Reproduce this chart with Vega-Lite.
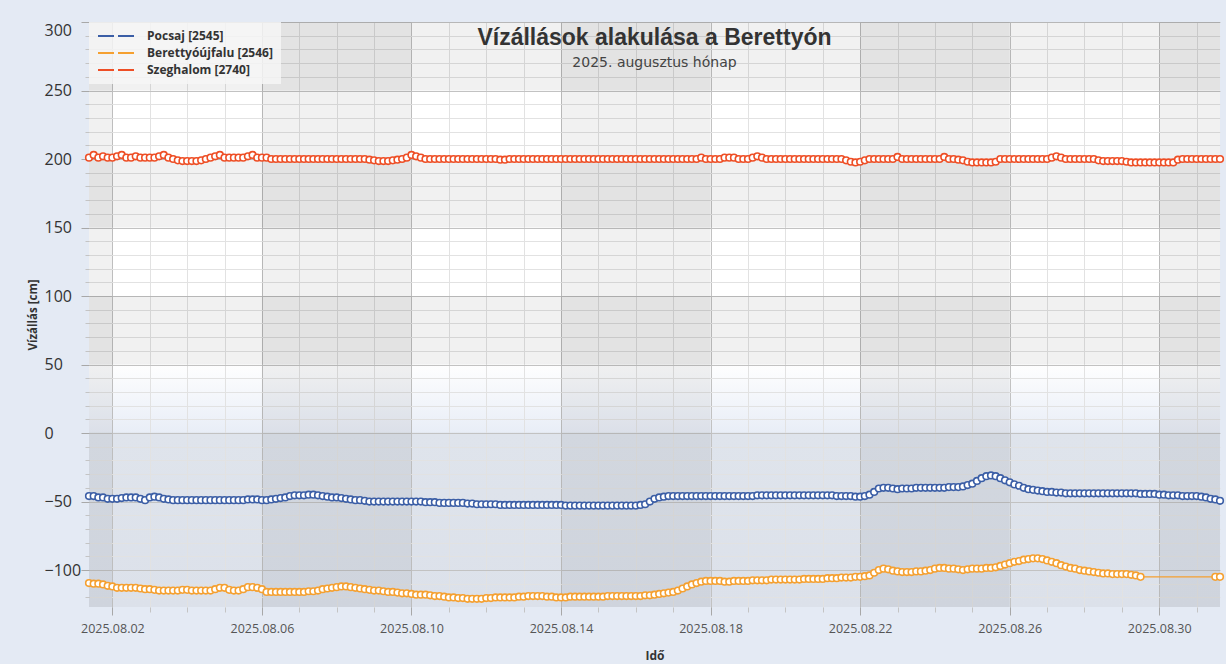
{
  "$schema": "https://vega.github.io/schema/vega-lite/v6.json",
  "width": 1131,
  "height": 585,
  "autosize": "none",
  "padding": {"left": 89, "top": 22, "right": 6, "bottom": 57},
  "background": "#e4eaf4",
  "config": {
    "view": {"stroke": null, "fill": {"gradient": "linear", "x1": 0, "y1": 0, "x2": 0, "y2": 1, "stops": [{"offset": 0, "color": "#ffffff"}, {"offset": 0.58, "color": "#ffffff"}, {"offset": 0.7, "color": "#e9eef7"}, {"offset": 0.703, "color": "#dfe4ec"}, {"offset": 1, "color": "#dce1ea"}]}},
    "font": "Open Sans"
  },
  "title": {
    "text": "Vízállások alakulása a Berettyón",
    "subtitle": "2025. augusztus hónap",
    "anchor": "middle",
    "frame": "group",
    "offset": -48,
    "font": "Liberation Sans",
    "fontSize": 23,
    "fontWeight": "bold",
    "color": "#333333",
    "subtitleFont": "DejaVu Sans",
    "subtitleFontSize": 14,
    "subtitleColor": "#444444",
    "subtitlePadding": 6
  },
  "datasets": {
    "main": [
      {"t":"2025-08-01 09","p":-46,"b":-109.5,"s":201},
      {"t":"2025-08-01 12","p":-46,"b":-110,"s":203},
      {"t":"2025-08-01 15","p":-47,"b":-110,"s":201},
      {"t":"2025-08-01 18","p":-47,"b":-110.5,"s":202},
      {"t":"2025-08-01 21","p":-48,"b":-111.5,"s":201},
      {"t":"2025-08-02 00","p":-48,"b":-112,"s":201},
      {"t":"2025-08-02 03","p":-48,"b":-113,"s":202},
      {"t":"2025-08-02 06","p":-47.5,"b":-113,"s":203},
      {"t":"2025-08-02 09","p":-47,"b":-113,"s":201},
      {"t":"2025-08-02 12","p":-47,"b":-113,"s":201},
      {"t":"2025-08-02 15","p":-47,"b":-113,"s":202},
      {"t":"2025-08-02 18","p":-48,"b":-113.5,"s":201},
      {"t":"2025-08-02 21","p":-49,"b":-114,"s":201},
      {"t":"2025-08-03 00","p":-47,"b":-114,"s":201},
      {"t":"2025-08-03 03","p":-46.5,"b":-114.5,"s":201},
      {"t":"2025-08-03 06","p":-47,"b":-115,"s":202},
      {"t":"2025-08-03 09","p":-48,"b":-115,"s":203},
      {"t":"2025-08-03 12","p":-48.5,"b":-115,"s":201},
      {"t":"2025-08-03 15","p":-49,"b":-115,"s":200},
      {"t":"2025-08-03 18","p":-49,"b":-115,"s":199},
      {"t":"2025-08-03 21","p":-49,"b":-114.5,"s":198.5},
      {"t":"2025-08-04 00","p":-49,"b":-114.5,"s":198.5},
      {"t":"2025-08-04 03","p":-49,"b":-115,"s":198.5},
      {"t":"2025-08-04 06","p":-49,"b":-115,"s":198.5},
      {"t":"2025-08-04 09","p":-49,"b":-115,"s":199},
      {"t":"2025-08-04 12","p":-49,"b":-115,"s":200},
      {"t":"2025-08-04 15","p":-49,"b":-115,"s":201},
      {"t":"2025-08-04 18","p":-49,"b":-114,"s":202},
      {"t":"2025-08-04 21","p":-49,"b":-113,"s":203},
      {"t":"2025-08-05 00","p":-49,"b":-113,"s":201},
      {"t":"2025-08-05 03","p":-49,"b":-114.5,"s":201},
      {"t":"2025-08-05 06","p":-49,"b":-115,"s":201},
      {"t":"2025-08-05 09","p":-49,"b":-115,"s":201},
      {"t":"2025-08-05 12","p":-49,"b":-114,"s":201},
      {"t":"2025-08-05 15","p":-48.5,"b":-112.5,"s":202},
      {"t":"2025-08-05 18","p":-48.5,"b":-112.5,"s":203},
      {"t":"2025-08-05 21","p":-48.5,"b":-113,"s":201},
      {"t":"2025-08-06 00","p":-49,"b":-114,"s":201},
      {"t":"2025-08-06 03","p":-49,"b":-116,"s":201},
      {"t":"2025-08-06 06","p":-48.5,"b":-116,"s":200},
      {"t":"2025-08-06 09","p":-48,"b":-116,"s":200},
      {"t":"2025-08-06 12","p":-47.5,"b":-116,"s":200},
      {"t":"2025-08-06 15","p":-47,"b":-116,"s":200},
      {"t":"2025-08-06 18","p":-46,"b":-116,"s":200},
      {"t":"2025-08-06 21","p":-45.5,"b":-116,"s":200},
      {"t":"2025-08-07 00","p":-45.5,"b":-116,"s":200},
      {"t":"2025-08-07 03","p":-45.5,"b":-116,"s":200},
      {"t":"2025-08-07 06","p":-45,"b":-115.5,"s":200},
      {"t":"2025-08-07 09","p":-45,"b":-115.5,"s":200},
      {"t":"2025-08-07 12","p":-45.5,"b":-115,"s":200},
      {"t":"2025-08-07 15","p":-46,"b":-114,"s":200},
      {"t":"2025-08-07 18","p":-46.5,"b":-113.5,"s":200},
      {"t":"2025-08-07 21","p":-47,"b":-113,"s":200},
      {"t":"2025-08-08 00","p":-47,"b":-112.5,"s":200},
      {"t":"2025-08-08 03","p":-47.5,"b":-112,"s":200},
      {"t":"2025-08-08 06","p":-48,"b":-112,"s":200},
      {"t":"2025-08-08 09","p":-48.5,"b":-112.5,"s":200},
      {"t":"2025-08-08 12","p":-49,"b":-113,"s":200},
      {"t":"2025-08-08 15","p":-49,"b":-113.5,"s":200},
      {"t":"2025-08-08 18","p":-49.5,"b":-114,"s":200},
      {"t":"2025-08-08 21","p":-50,"b":-114.5,"s":199.5},
      {"t":"2025-08-09 00","p":-50,"b":-115,"s":199},
      {"t":"2025-08-09 03","p":-50,"b":-115,"s":198.5},
      {"t":"2025-08-09 06","p":-50,"b":-115.5,"s":198.5},
      {"t":"2025-08-09 09","p":-50,"b":-116,"s":198.5},
      {"t":"2025-08-09 12","p":-50,"b":-116,"s":199},
      {"t":"2025-08-09 15","p":-50,"b":-116.5,"s":199.5},
      {"t":"2025-08-09 18","p":-50,"b":-117,"s":200},
      {"t":"2025-08-09 21","p":-50,"b":-117,"s":201},
      {"t":"2025-08-10 00","p":-50,"b":-117.5,"s":203},
      {"t":"2025-08-10 03","p":-50,"b":-118,"s":202},
      {"t":"2025-08-10 06","p":-50,"b":-118,"s":201},
      {"t":"2025-08-10 09","p":-50.5,"b":-118,"s":200},
      {"t":"2025-08-10 12","p":-50.5,"b":-118.5,"s":200},
      {"t":"2025-08-10 15","p":-50.5,"b":-119,"s":200},
      {"t":"2025-08-10 18","p":-51,"b":-119,"s":200},
      {"t":"2025-08-10 21","p":-51,"b":-119.5,"s":200},
      {"t":"2025-08-11 00","p":-51,"b":-120,"s":200},
      {"t":"2025-08-11 03","p":-51,"b":-120,"s":200},
      {"t":"2025-08-11 06","p":-51,"b":-120.5,"s":200},
      {"t":"2025-08-11 09","p":-51,"b":-120.5,"s":200},
      {"t":"2025-08-11 12","p":-51.5,"b":-121,"s":200},
      {"t":"2025-08-11 15","p":-51.5,"b":-121,"s":200},
      {"t":"2025-08-11 18","p":-52,"b":-121,"s":200},
      {"t":"2025-08-11 21","p":-52,"b":-121,"s":200},
      {"t":"2025-08-12 00","p":-52,"b":-120.5,"s":200},
      {"t":"2025-08-12 03","p":-52,"b":-120.5,"s":200},
      {"t":"2025-08-12 06","p":-52,"b":-120,"s":200},
      {"t":"2025-08-12 09","p":-52.5,"b":-120,"s":199.5},
      {"t":"2025-08-12 12","p":-52.5,"b":-120,"s":199.5},
      {"t":"2025-08-12 15","p":-52.5,"b":-120,"s":200},
      {"t":"2025-08-12 18","p":-52.5,"b":-120,"s":200},
      {"t":"2025-08-12 21","p":-52.5,"b":-119.5,"s":200},
      {"t":"2025-08-13 00","p":-52.5,"b":-119.5,"s":200},
      {"t":"2025-08-13 03","p":-52.5,"b":-119,"s":200},
      {"t":"2025-08-13 06","p":-52.5,"b":-119,"s":200},
      {"t":"2025-08-13 09","p":-52.5,"b":-119,"s":200},
      {"t":"2025-08-13 12","p":-52.5,"b":-119,"s":200},
      {"t":"2025-08-13 15","p":-52.5,"b":-119.5,"s":200},
      {"t":"2025-08-13 18","p":-52.5,"b":-119.5,"s":200},
      {"t":"2025-08-13 21","p":-52.5,"b":-120,"s":200},
      {"t":"2025-08-14 00","p":-52.5,"b":-120,"s":200},
      {"t":"2025-08-14 03","p":-53,"b":-120,"s":200},
      {"t":"2025-08-14 06","p":-53,"b":-119.5,"s":200},
      {"t":"2025-08-14 09","p":-53,"b":-119.5,"s":200},
      {"t":"2025-08-14 12","p":-53,"b":-119.5,"s":200},
      {"t":"2025-08-14 15","p":-53,"b":-119.5,"s":200},
      {"t":"2025-08-14 18","p":-53,"b":-119.5,"s":200},
      {"t":"2025-08-14 21","p":-53,"b":-119.5,"s":200},
      {"t":"2025-08-15 00","p":-53,"b":-119.5,"s":200},
      {"t":"2025-08-15 03","p":-53,"b":-119.5,"s":200},
      {"t":"2025-08-15 06","p":-53,"b":-119,"s":200},
      {"t":"2025-08-15 09","p":-53,"b":-119,"s":200},
      {"t":"2025-08-15 12","p":-53,"b":-119,"s":200},
      {"t":"2025-08-15 15","p":-53,"b":-119,"s":200},
      {"t":"2025-08-15 18","p":-53,"b":-119,"s":200},
      {"t":"2025-08-15 21","p":-53,"b":-119,"s":200},
      {"t":"2025-08-16 00","p":-53,"b":-119,"s":200},
      {"t":"2025-08-16 03","p":-52.5,"b":-119,"s":200},
      {"t":"2025-08-16 06","p":-52,"b":-118.5,"s":200},
      {"t":"2025-08-16 09","p":-50,"b":-118.5,"s":200},
      {"t":"2025-08-16 12","p":-48,"b":-118,"s":200},
      {"t":"2025-08-16 15","p":-47,"b":-117.5,"s":200},
      {"t":"2025-08-16 18","p":-46.5,"b":-117,"s":200},
      {"t":"2025-08-16 21","p":-46,"b":-116.5,"s":200},
      {"t":"2025-08-17 00","p":-46,"b":-116,"s":200},
      {"t":"2025-08-17 03","p":-46,"b":-115,"s":200},
      {"t":"2025-08-17 06","p":-46,"b":-113.5,"s":200},
      {"t":"2025-08-17 09","p":-46,"b":-112,"s":200},
      {"t":"2025-08-17 12","p":-46,"b":-110.5,"s":200},
      {"t":"2025-08-17 15","p":-46,"b":-109.5,"s":200},
      {"t":"2025-08-17 18","p":-46,"b":-108.5,"s":201},
      {"t":"2025-08-17 21","p":-46,"b":-108,"s":200},
      {"t":"2025-08-18 00","p":-46,"b":-108,"s":200},
      {"t":"2025-08-18 03","p":-46,"b":-108,"s":200},
      {"t":"2025-08-18 06","p":-46,"b":-108,"s":200},
      {"t":"2025-08-18 09","p":-46,"b":-108.5,"s":201},
      {"t":"2025-08-18 12","p":-46,"b":-108.5,"s":201},
      {"t":"2025-08-18 15","p":-46,"b":-108,"s":201},
      {"t":"2025-08-18 18","p":-46,"b":-108,"s":200},
      {"t":"2025-08-18 21","p":-46,"b":-108,"s":200},
      {"t":"2025-08-19 00","p":-46,"b":-108,"s":200},
      {"t":"2025-08-19 03","p":-46,"b":-107.5,"s":201},
      {"t":"2025-08-19 06","p":-45.5,"b":-107.5,"s":202},
      {"t":"2025-08-19 09","p":-45.5,"b":-107.5,"s":201},
      {"t":"2025-08-19 12","p":-45.5,"b":-107.5,"s":200},
      {"t":"2025-08-19 15","p":-45.5,"b":-107,"s":200},
      {"t":"2025-08-19 18","p":-45.5,"b":-107,"s":200},
      {"t":"2025-08-19 21","p":-45.5,"b":-107,"s":200},
      {"t":"2025-08-20 00","p":-45.5,"b":-107,"s":200},
      {"t":"2025-08-20 03","p":-45.5,"b":-107,"s":200},
      {"t":"2025-08-20 06","p":-45.5,"b":-107,"s":200},
      {"t":"2025-08-20 09","p":-45.5,"b":-107,"s":200},
      {"t":"2025-08-20 12","p":-45.5,"b":-106.5,"s":200},
      {"t":"2025-08-20 15","p":-45.5,"b":-106.5,"s":200},
      {"t":"2025-08-20 18","p":-45.5,"b":-106.5,"s":200},
      {"t":"2025-08-20 21","p":-45.5,"b":-106.5,"s":200},
      {"t":"2025-08-21 00","p":-45.5,"b":-106.5,"s":200},
      {"t":"2025-08-21 03","p":-45.5,"b":-106,"s":200},
      {"t":"2025-08-21 06","p":-45.5,"b":-106,"s":200},
      {"t":"2025-08-21 09","p":-46,"b":-106,"s":200},
      {"t":"2025-08-21 12","p":-46,"b":-105.5,"s":200},
      {"t":"2025-08-21 15","p":-46,"b":-105.5,"s":199},
      {"t":"2025-08-21 18","p":-46,"b":-105.5,"s":198},
      {"t":"2025-08-21 21","p":-46.5,"b":-105,"s":197.5},
      {"t":"2025-08-22 00","p":-46.5,"b":-105,"s":198},
      {"t":"2025-08-22 03","p":-46,"b":-104.5,"s":199},
      {"t":"2025-08-22 06","p":-45,"b":-104,"s":200},
      {"t":"2025-08-22 09","p":-43,"b":-102,"s":200},
      {"t":"2025-08-22 12","p":-40.5,"b":-100,"s":200},
      {"t":"2025-08-22 15","p":-40,"b":-99,"s":200},
      {"t":"2025-08-22 18","p":-40,"b":-99.5,"s":200},
      {"t":"2025-08-22 21","p":-40.5,"b":-100.5,"s":200},
      {"t":"2025-08-23 00","p":-41,"b":-101,"s":201.5},
      {"t":"2025-08-23 03","p":-40.5,"b":-101.5,"s":200},
      {"t":"2025-08-23 06","p":-40.5,"b":-101.5,"s":200},
      {"t":"2025-08-23 09","p":-40.5,"b":-101.5,"s":200},
      {"t":"2025-08-23 12","p":-40,"b":-101,"s":200},
      {"t":"2025-08-23 15","p":-40,"b":-101,"s":200},
      {"t":"2025-08-23 18","p":-40,"b":-100.5,"s":200},
      {"t":"2025-08-23 21","p":-40,"b":-100,"s":200},
      {"t":"2025-08-24 00","p":-40,"b":-99,"s":200},
      {"t":"2025-08-24 03","p":-40,"b":-98.5,"s":200},
      {"t":"2025-08-24 06","p":-40,"b":-98.5,"s":201.5},
      {"t":"2025-08-24 09","p":-39.5,"b":-99,"s":200},
      {"t":"2025-08-24 12","p":-39.5,"b":-99,"s":200},
      {"t":"2025-08-24 15","p":-39.5,"b":-99.5,"s":199.5},
      {"t":"2025-08-24 18","p":-39,"b":-100,"s":199},
      {"t":"2025-08-24 21","p":-38,"b":-99.5,"s":198},
      {"t":"2025-08-25 00","p":-37,"b":-99,"s":197.5},
      {"t":"2025-08-25 03","p":-35,"b":-99,"s":197.5},
      {"t":"2025-08-25 06","p":-33,"b":-99,"s":197.5},
      {"t":"2025-08-25 09","p":-31.5,"b":-98.5,"s":197.5},
      {"t":"2025-08-25 12","p":-31,"b":-98.5,"s":197.5},
      {"t":"2025-08-25 15","p":-31.5,"b":-98,"s":198},
      {"t":"2025-08-25 18","p":-33,"b":-97,"s":200},
      {"t":"2025-08-25 21","p":-34.5,"b":-96,"s":200},
      {"t":"2025-08-26 00","p":-36,"b":-95,"s":200},
      {"t":"2025-08-26 03","p":-37.5,"b":-94,"s":200},
      {"t":"2025-08-26 06","p":-38.5,"b":-93.5,"s":200},
      {"t":"2025-08-26 09","p":-40,"b":-92.5,"s":200},
      {"t":"2025-08-26 12","p":-41,"b":-92,"s":200},
      {"t":"2025-08-26 15","p":-41.5,"b":-91.5,"s":200},
      {"t":"2025-08-26 18","p":-42,"b":-91.5,"s":200},
      {"t":"2025-08-26 21","p":-42.5,"b":-92,"s":200},
      {"t":"2025-08-27 00","p":-43,"b":-93,"s":200},
      {"t":"2025-08-27 03","p":-43,"b":-94,"s":201},
      {"t":"2025-08-27 06","p":-43.5,"b":-95,"s":202},
      {"t":"2025-08-27 09","p":-43.5,"b":-96.5,"s":201},
      {"t":"2025-08-27 12","p":-44,"b":-97.5,"s":200},
      {"t":"2025-08-27 15","p":-44,"b":-98.5,"s":200},
      {"t":"2025-08-27 18","p":-44,"b":-99,"s":200},
      {"t":"2025-08-27 21","p":-44,"b":-100,"s":200},
      {"t":"2025-08-28 00","p":-44,"b":-100.5,"s":200},
      {"t":"2025-08-28 03","p":-44,"b":-101,"s":200},
      {"t":"2025-08-28 06","p":-44,"b":-101.5,"s":200},
      {"t":"2025-08-28 09","p":-44,"b":-102,"s":199},
      {"t":"2025-08-28 12","p":-44,"b":-102.5,"s":198.5},
      {"t":"2025-08-28 15","p":-44,"b":-102.5,"s":198.5},
      {"t":"2025-08-28 18","p":-44,"b":-103,"s":198.5},
      {"t":"2025-08-28 21","p":-44,"b":-103,"s":198.5},
      {"t":"2025-08-29 00","p":-44,"b":-103,"s":198.5},
      {"t":"2025-08-29 03","p":-44,"b":-103,"s":198},
      {"t":"2025-08-29 06","p":-44,"b":-103.5,"s":197.5},
      {"t":"2025-08-29 09","p":-44,"b":-104,"s":197.5},
      {"t":"2025-08-29 12","p":-44.5,"b":-105,"s":197.5},
      {"t":"2025-08-29 15","p":-44.5,"s":197.5},
      {"t":"2025-08-29 18","p":-44.5,"s":197.5},
      {"t":"2025-08-29 21","p":-44.5,"s":197.5},
      {"t":"2025-08-30 00","p":-45,"s":197.5},
      {"t":"2025-08-30 03","p":-45,"s":197.5},
      {"t":"2025-08-30 06","p":-45.5,"s":197.5},
      {"t":"2025-08-30 09","p":-45.5,"s":197.5},
      {"t":"2025-08-30 12","p":-45.5,"s":199.5},
      {"t":"2025-08-30 15","p":-46,"s":200},
      {"t":"2025-08-30 18","p":-46,"s":200},
      {"t":"2025-08-30 21","p":-46,"s":200},
      {"t":"2025-08-31 00","p":-46,"s":200},
      {"t":"2025-08-31 03","p":-46.5,"s":200},
      {"t":"2025-08-31 06","p":-47,"s":200},
      {"t":"2025-08-31 09","p":-48,"s":200},
      {"t":"2025-08-31 12","p":-48.5,"b":-105,"s":200},
      {"t":"2025-08-31 15","p":-49.5,"b":-105,"s":200}
    ],
    "cols": [
      {"a":"2025-08-01 09","e":"2025-08-02 00"},
      {"a":"2025-08-06 00","e":"2025-08-10 00"},
      {"a":"2025-08-14 00","e":"2025-08-18 00"},
      {"a":"2025-08-22 00","e":"2025-08-26 00"},
      {"a":"2025-08-30 00","e":"2025-08-31 15"}
    ],
    "rows": [
      {"lo":250,"hi":300},
      {"lo":150,"hi":200},
      {"lo":50,"hi":100}
    ],
    "names": [
      {"k":"p","name":"Pocsaj [2545]"},
      {"k":"b","name":"Berettyóújfalu [2546]"},
      {"k":"s","name":"Szeghalom [2740]"}
    ]
  },
  "layer": [
    {
      "data": {"name": "cols", "format": {"parse": {"a": "utc:'%Y-%m-%d %H'", "e": "utc:'%Y-%m-%d %H'"}}},
      "mark": {"type": "rect", "color": "#000000", "opacity": 0.055},
      "encoding": {
        "x": {"field": "a", "type": "temporal",
          "scale": {"type": "utc", "nice": false, "domain": [{"year":2025,"month":8,"date":1,"hours":9,"utc":true},{"year":2025,"month":8,"date":31,"hours":15,"utc":true}]},
          "axis": {"orient": "bottom", "title": null, "labels": false, "domain": false, "ticks": true, "tickSize": 5, "tickColor": "#c4c4c4", "grid": true, "gridColor": "#e2e2e2", "tickCount": {"interval": "day", "step": 1}}},
        "x2": {"field": "e"}
      }
    },
    {
      "data": {"name": "rows"},
      "mark": {"type": "rect", "color": "#000000", "opacity": 0.055},
      "encoding": {
        "y": {"field": "lo", "type": "quantitative",
          "scale": {"domain": [-127, 300], "nice": false, "zero": false},
          "axis": {"orient": "left", "title": null, "labels": false, "domain": false, "ticks": true, "tickSize": 4, "tickColor": "#c4c4c4", "grid": true, "gridColor": "#e2e2e2", "values": [-120,-110,-90,-80,-70,-60,-40,-30,-20,-10,10,20,30,40,60,70,80,90,110,120,130,140,160,170,180,190,210,220,230,240,260,270,280,290]}},
        "y2": {"field": "hi"}
      }
    },
    {
      "data": {"name": "main", "format": {"parse": {"t": "utc:'%Y-%m-%d %H'"}}},
      "transform": [
        {"fold": ["p", "b", "s"], "as": ["k", "v"]},
        {"filter": "isValid(datum.v)"},
        {"lookup": "k", "from": {"data": {"name": "names"}, "key": "k", "fields": ["name"]}}
      ],
      "mark": {"type": "line", "strokeWidth": 1.3, "point": {"filled": false, "fill": "#ffffff", "size": 44, "strokeWidth": 1.6}},
      "encoding": {
        "x": {"field": "t", "type": "temporal",
          "scale": {"type": "utc", "nice": false, "domain": [{"year":2025,"month":8,"date":1,"hours":9,"utc":true},{"year":2025,"month":8,"date":31,"hours":15,"utc":true}]},
          "axis": {"orient": "bottom", "title": "Idő", "titleFont": "Open Sans", "titleFontWeight": "bold", "titleFontSize": 12, "titleColor": "#333333", "titlePadding": 16,
            "values": [{"year":2025,"month":8,"date":2,"utc":true},{"year":2025,"month":8,"date":6,"utc":true},{"year":2025,"month":8,"date":10,"utc":true},{"year":2025,"month":8,"date":14,"utc":true},{"year":2025,"month":8,"date":18,"utc":true},{"year":2025,"month":8,"date":22,"utc":true},{"year":2025,"month":8,"date":26,"utc":true},{"year":2025,"month":8,"date":30,"utc":true}],
            "format": "%Y.%m.%d", "labelFont": "Open Sans", "labelFontSize": 12.5, "labelColor": "#555555", "labelPadding": 7, "tickSize": 8, "tickColor": "#a8a8a8", "domain": false, "grid": true, "gridColor": "#c2c2c2"}},
        "y": {"field": "v", "type": "quantitative",
          "scale": {"domain": [-127, 300], "nice": false, "zero": false},
          "axis": {"orient": "left", "title": "Vízállás [cm]", "titleFont": "Open Sans", "titleFontWeight": "bold", "titleFontSize": 11.5, "titleColor": "#333333", "titlePadding": 6,
            "values": [-100,-50,0,50,100,150,200,250,300], "labelAlign": "left", "labelPadding": 37, "labelFlush": true, "labelFont": "Open Sans", "labelFontSize": 16, "labelColor": "#333333", "tickSize": 8, "tickColor": "#a8a8a8", "domain": false, "grid": true, "gridColor": "#c2c2c2"}},
        "color": {"field": "name", "type": "nominal",
          "scale": {"domain": ["Pocsaj [2545]", "Berettyóújfalu [2546]", "Szeghalom [2740]"], "range": ["#3b5ea6", "#f5a030", "#ee4e25"]},
          "legend": {"orient": "top-left", "offset": 0, "title": null, "fillColor": "rgba(246,246,246,0.85)", "padding": 8, "rowPadding": 5,
            "symbolType": "M-1,0H7", "symbolSize": 100, "symbolStrokeWidth": 2, "symbolDash": [16, 4], "labelFont": "Open Sans", "labelFontWeight": "bold", "labelFontSize": 12, "labelColor": "#333333", "labelOffset": 38}}
      }
    }
  ],
  "resolve": {"axis": {"x": "independent", "y": "independent"}}
}
